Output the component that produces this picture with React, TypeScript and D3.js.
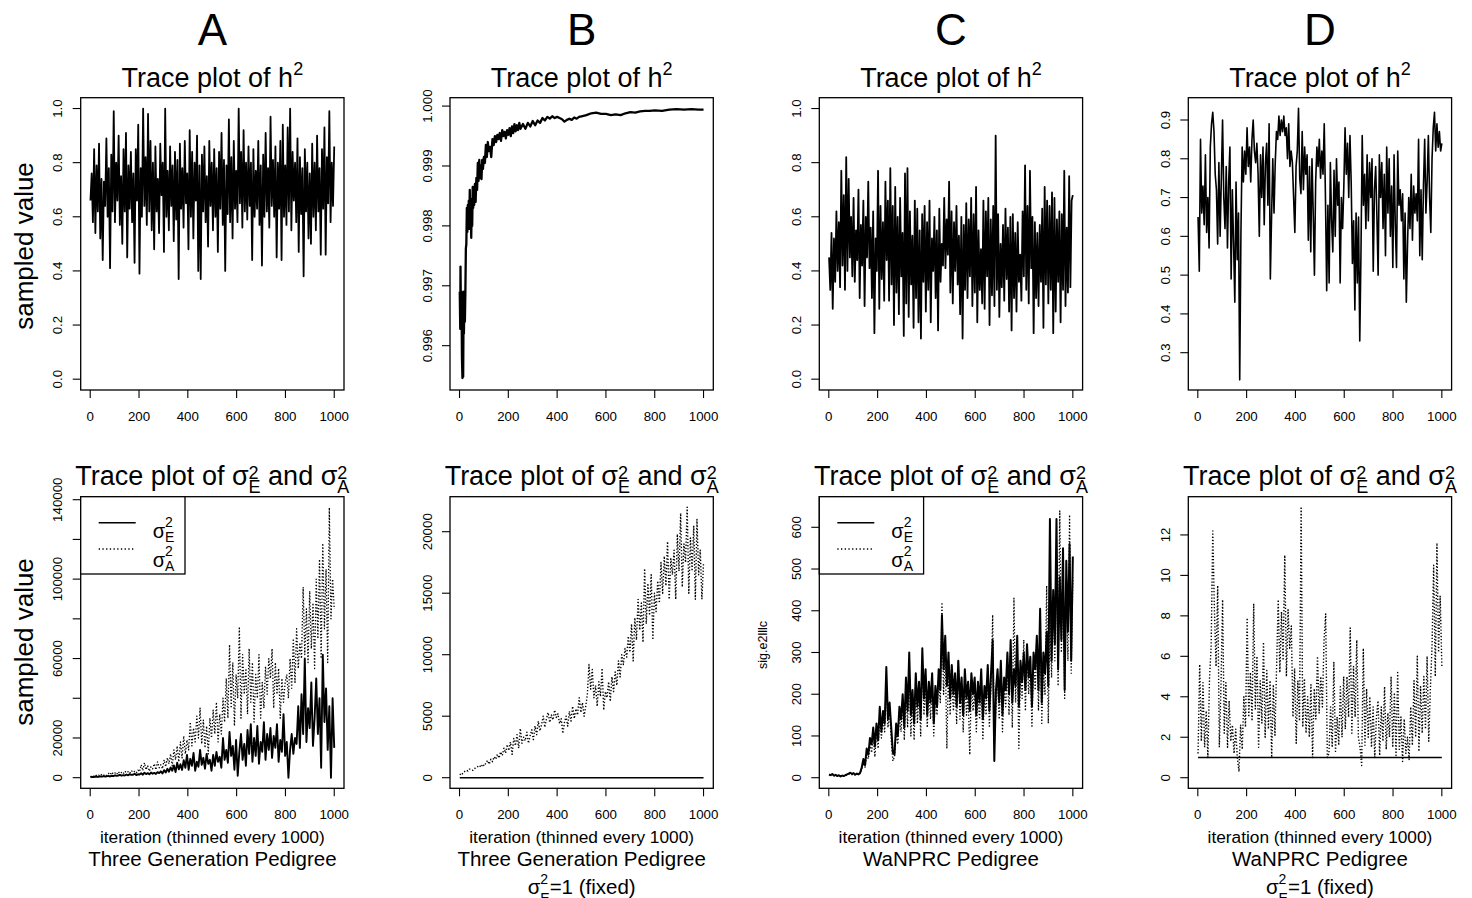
import React from "react";
import * as d3 from "d3";

const FONT = "'Liberation Sans', Arial, Helvetica, sans-serif";

// ---------------- labels ----------------
const panelLetters = ["A", "B", "C", "D"];
const pedigrees = ["Three Generation Pedigree", "Three Generation Pedigree", "WaNPRC Pedigree", "WaNPRC Pedigree"];
const fixedNote = [false, true, false, true];
const iterTicks = [0, 200, 400, 600, 800, 1000];

// ---------------- y ticks ----------------
const h2TicksAC = [0, 0.2, 0.4, 0.6, 0.8, 1.0];
const h2TicksB = [0.996, 0.997, 0.998, 0.999, 1.0];
const h2TicksD = [0.3, 0.4, 0.5, 0.6, 0.7, 0.8, 0.9];
const varTicksA = [0, 20000, 40000, 60000, 80000, 100000, 120000, 140000];
const varLabelsA = [0, 20000, 60000, 100000, 140000];
const varTicksB = [0, 5000, 10000, 15000, 20000];
const varTicksC = [0, 100, 200, 300, 400, 500, 600];
const varTicksD = [0, 2, 4, 6, 8, 10, 12];

// ---------------- top row: h2 traces ----------------
const h2_A = [
  0.66,0.76,0.58,0.85,0.54,0.79,0.62,0.87,0.52,0.74,
  0.44,0.73,0.64,0.89,0.60,0.78,0.41,0.83,0.62,0.99,
  0.58,0.80,0.66,0.90,0.57,0.75,0.50,0.85,0.62,0.91,
  0.45,0.79,0.63,0.84,0.58,0.76,0.43,0.85,0.66,0.94,
  0.39,0.78,0.60,1.00,0.64,0.82,0.57,0.98,0.62,0.88,
  0.55,0.80,0.48,0.86,0.62,0.74,0.54,0.87,0.68,0.80,
  0.47,1.00,0.60,0.77,0.55,0.86,0.64,0.79,0.51,0.84,
  0.59,0.81,0.37,0.87,0.63,0.78,0.56,0.88,0.65,0.76,
  0.48,0.92,0.60,0.84,0.52,0.80,0.66,0.90,0.40,0.79,
  0.37,0.83,0.62,0.86,0.58,0.75,0.49,0.88,0.64,0.80,
  0.55,0.85,0.60,0.78,0.47,0.84,0.63,0.91,0.57,0.81,
  0.40,0.79,0.61,0.96,0.58,0.82,0.52,0.88,0.63,0.77,
  0.58,1.00,0.65,0.84,0.56,0.92,0.62,0.80,0.59,0.86,
  0.64,0.80,0.44,0.85,0.60,0.77,0.63,0.88,0.57,0.79,
  0.42,0.83,0.60,0.91,0.62,0.78,0.56,0.97,0.64,0.81,
  0.60,0.86,0.45,0.80,0.63,0.88,0.44,0.94,0.60,0.79,
  0.57,0.93,0.62,1.00,0.55,0.84,0.66,0.80,0.58,0.89,
  0.47,0.82,0.61,0.78,0.38,0.85,0.62,0.80,0.52,0.76,
  0.50,0.87,0.60,0.80,0.55,0.90,0.62,0.78,0.46,0.85,
  0.63,0.93,0.46,0.82,0.65,0.99,0.58,0.80,0.64,0.86,
];

const iter_B = [
  1,3,4,6,8,10,12,14,15,17,
  18,20,22,24,26,28,30,32,34,36,
  38,40,42,44,46,48,50,52,54,56,
  58,60,63,66,69,72,75,78,81,84,
  87,90,93,96,100,104,108,112,116,120,
  125,130,135,140,145,150,155,160,165,170,
  175,180,185,190,195,200,205,210,215,220,
  225,230,235,240,245,250,260,270,280,290,
  300,310,320,330,340,350,360,370,380,390,
  400,410,420,430,440,450,460,470,480,490,
  500,520,540,560,580,600,620,640,660,680,
  700,720,740,760,780,800,830,860,890,920,
  950,980,1000,
];
const h2_B = [
  0.99690,0.99628,0.99732,0.99640,0.99690,0.99580,0.99546,0.99600,0.99548,0.99690,
  0.99620,0.99675,0.99640,0.99690,0.99762,0.99770,0.99830,0.99790,0.99835,0.99800,
  0.99842,0.99795,0.99860,0.99810,0.99845,0.99780,0.99830,0.99800,0.99865,0.99830,
  0.99855,0.99835,0.99870,0.99840,0.99880,0.99860,0.99905,0.99875,0.99910,0.99880,
  0.99900,0.99878,0.99910,0.99895,0.99915,0.99905,0.99935,0.99915,0.99940,0.99925,
  0.99932,0.99915,0.99945,0.99935,0.99950,0.99940,0.99952,0.99945,0.99955,0.99942,
  0.99960,0.99950,0.99957,0.99946,0.99960,0.99952,0.99963,0.99950,0.99966,0.99955,
  0.99970,0.99958,0.99968,0.99960,0.99972,0.99962,0.99970,0.99962,0.99972,0.99966,
  0.99975,0.99968,0.99976,0.99972,0.99980,0.99976,0.99982,0.99979,0.99983,0.99980,
  0.99982,0.99980,0.99978,0.99974,0.99977,0.99979,0.99977,0.99981,0.99979,0.99982,
  0.99983,0.99985,0.99988,0.99989,0.99987,0.99987,0.99985,0.99986,0.99985,0.99988,
  0.99990,0.99989,0.99991,0.99992,0.99992,0.99993,0.99992,0.99994,0.99995,0.99994,
  0.99995,0.99994,0.99994,
];

const h2_C = [
  0.45,0.33,0.54,0.26,0.52,0.36,0.62,0.40,0.58,0.34,
  0.77,0.42,0.68,0.33,0.82,0.40,0.74,0.45,0.60,0.38,
  0.67,0.36,0.55,0.44,0.70,0.30,0.57,0.42,0.66,0.27,
  0.60,0.45,0.73,0.41,0.56,0.30,0.62,0.17,0.52,0.40,
  0.77,0.26,0.64,0.37,0.58,0.29,0.73,0.44,0.66,0.29,
  0.78,0.35,0.64,0.20,0.71,0.32,0.60,0.24,0.67,0.38,
  0.54,0.16,0.76,0.28,0.78,0.23,0.62,0.35,0.53,0.19,
  0.66,0.30,0.63,0.21,0.55,0.15,0.61,0.36,0.64,0.25,
  0.58,0.33,0.66,0.21,0.52,0.40,0.60,0.30,0.55,0.18,
  0.63,0.36,0.50,0.42,0.67,0.41,0.59,0.46,0.73,0.32,
  0.62,0.28,0.58,0.40,0.64,0.35,0.53,0.24,0.60,0.15,
  0.57,0.33,0.65,0.30,0.59,0.38,0.67,0.27,0.61,0.32,
  0.71,0.21,0.55,0.33,0.48,0.28,0.66,0.26,0.62,0.38,
  0.67,0.20,0.59,0.31,0.64,0.27,0.90,0.33,0.61,0.23,
  0.50,0.34,0.57,0.29,0.63,0.37,0.56,0.25,0.60,0.18,
  0.61,0.30,0.54,0.25,0.58,0.36,0.46,0.29,0.62,0.38,
  0.79,0.33,0.64,0.28,0.77,0.41,0.60,0.17,0.58,0.30,
  0.54,0.27,0.57,0.36,0.63,0.19,0.71,0.35,0.66,0.28,
  0.64,0.33,0.69,0.17,0.67,0.25,0.59,0.36,0.62,0.21,
  0.61,0.33,0.77,0.27,0.56,0.32,0.75,0.34,0.66,0.68,
];

const h2_D = [
  0.65,0.51,0.85,0.66,0.73,0.63,0.81,0.61,0.70,0.57,
  0.83,0.89,0.92,0.87,0.76,0.72,0.58,0.79,0.60,0.75,
  0.90,0.70,0.62,0.78,0.57,0.74,0.83,0.49,0.72,0.58,
  0.43,0.74,0.54,0.66,0.23,0.61,0.83,0.74,0.82,0.76,
  0.88,0.78,0.83,0.74,0.85,0.90,0.82,0.79,0.84,0.76,
  0.60,0.81,0.70,0.83,0.63,0.79,0.84,0.68,0.89,0.49,
  0.65,0.80,0.66,0.79,0.87,0.85,0.91,0.86,0.90,0.87,
  0.91,0.86,0.88,0.80,0.89,0.78,0.82,0.79,0.70,0.61,
  0.78,0.82,0.93,0.75,0.71,0.87,0.72,0.83,0.76,0.81,
  0.59,0.78,0.56,0.80,0.66,0.50,0.74,0.83,0.78,0.85,
  0.75,0.82,0.76,0.89,0.70,0.46,0.68,0.48,0.79,0.64,
  0.56,0.77,0.60,0.80,0.68,0.74,0.48,0.70,0.62,0.73,
  0.88,0.76,0.84,0.70,0.86,0.74,0.53,0.64,0.41,0.66,
  0.48,0.65,0.33,0.56,0.86,0.68,0.76,0.62,0.81,0.64,
  0.79,0.70,0.80,0.51,0.72,0.78,0.65,0.50,0.81,0.70,
  0.79,0.62,0.76,0.55,0.83,0.66,0.80,0.60,0.73,0.52,
  0.81,0.63,0.52,0.82,0.68,0.72,0.64,0.71,0.49,0.66,
  0.43,0.58,0.70,0.62,0.76,0.59,0.73,0.66,0.71,0.64,
  0.85,0.55,0.72,0.54,0.73,0.85,0.66,0.74,0.86,0.70,
  0.61,0.80,0.88,0.92,0.82,0.89,0.83,0.87,0.82,0.84,
];

// ---------------- bottom row: variance traces ----------------
const sigE_A = [
  200,400,300,600,500,400,700,500,800,600,
  700,900,600,1000,800,1200,900,1100,1400,1000,
  1300,1100,1600,1200,1800,1400,1500,2000,1300,1700,
  1600,2200,1500,2500,1800,2300,1700,2600,2000,2400,
  1900,2800,2300,3200,2100,3800,2600,4500,3000,5200,
  3500,6200,2800,7500,4200,6800,3900,8800,5000,11500,
  4000,9500,6000,12500,3500,8000,5500,14000,6500,10000,
  4500,12000,7000,9000,3500,11500,6000,13000,8000,10500,
  5000,20000,9000,14000,7500,23000,11000,16000,4000,19000,
  1000,13000,22000,9000,17000,6000,24000,12000,27000,8000,
  20000,11000,26000,7000,18000,13000,28000,9000,22000,14000,
  25000,10000,21000,15000,27000,8000,19000,13000,32000,11000,
  18000,0,14000,22000,12000,20000,17000,36000,15000,42000,
  22000,60000,18000,35000,25000,48000,16000,30000,50000,22000,
  40000,5000,62000,28000,45000,14000,36000,0,40000,15000,
];
const sigA_A = [
  500,1000,700,1500,900,1300,800,1800,1200,1600,
  1100,2200,1500,2800,1800,2400,1600,3000,2100,2600,
  1900,3300,2500,3000,2200,3600,2700,3200,2400,3800,
  3000,6500,3500,7500,4000,6000,3200,5500,4500,7000,
  4000,8000,5000,6500,4500,9000,5500,10000,7000,12000,
  6000,14000,9000,16000,8000,18000,10000,21000,12000,19000,
  14000,28000,16000,25000,18000,31000,20000,35000,17000,29000,
  15000,26000,12000,30000,20000,34000,22000,38000,18000,32000,
  22000,40000,28000,50000,30000,67000,35000,58000,26000,52000,
  40000,76000,30000,62000,42000,55000,32000,65000,38000,58000,
  28000,52000,40000,62000,30000,48000,35000,56000,42000,60000,
  50000,65000,35000,58000,42000,55000,30000,50000,38000,48000,
  52000,40000,60000,45000,70000,48000,75000,55000,68000,60000,
  96000,62000,85000,58000,94000,65000,88000,55000,100000,70000,
  110000,60000,118000,75000,105000,58000,136000,80000,100000,85000,
];

const sigE_fixed_iter = [1, 1000];
const sigE_fixed = [1, 1];

const sigA_B = [
  300,200,400,500,600,550,700,650,600,750,
  800,900,1000,850,1100,950,1200,1400,1100,1500,
  1300,1700,1500,1900,1600,2100,1800,2400,2000,2700,
  2200,2900,1900,3200,2600,3500,2400,4000,2800,3300,
  3000,3700,2800,3400,3900,3100,4200,3500,4600,3800,
  4300,5000,4100,4800,5300,4500,5100,4700,5500,4900,
  5200,4400,4800,3600,4500,5000,4200,5400,4600,5800,
  4800,5600,5100,6500,5300,6100,5000,5800,6800,9200,
  7200,8800,6500,7500,5800,7800,6600,8900,5500,7000,
  6500,7800,6200,8200,7000,8600,7500,9500,8200,10000,
  9200,10500,9800,11500,10200,12500,9500,13000,11200,14500,
  12000,14200,11000,17000,12500,15800,13200,16500,11200,15000,
  13500,16000,14200,17500,15000,18000,15600,19200,14500,17800,
  16500,18500,14500,19800,16800,21500,15500,19000,17500,22000,
  15000,19500,16800,20500,14500,21000,16500,18500,14500,17500,
];

const sigE_C = [
  8,6,9,5,7,4,6,3,5,4,
  6,8,10,12,9,11,7,10,8,12,
  25,45,30,70,55,95,80,120,75,130,
  90,170,110,160,130,265,140,180,120,60,
  55,130,100,170,140,200,120,240,160,300,
  150,210,130,250,170,230,140,310,190,260,
  150,230,180,250,130,220,170,260,210,390,
  260,340,220,300,190,270,200,250,170,280,
  180,240,150,260,190,230,160,250,200,240,
  150,230,180,260,140,220,190,270,160,250,
  330,40,210,260,180,280,150,240,210,300,
  200,330,180,260,220,340,170,280,230,300,
  210,320,240,290,170,300,260,340,210,405,
  180,300,250,350,220,620,280,450,320,620,
  260,480,330,550,210,520,350,560,280,530,
];
const sigA_C = [
  7,5,8,4,6,3,5,4,6,5,
  5,7,9,8,7,10,6,9,7,10,
  20,35,25,55,45,80,60,100,50,110,
  70,150,95,140,110,220,120,160,90,40,
  50,110,80,150,110,180,90,220,120,260,
  100,190,90,220,130,210,100,280,150,230,
  120,210,140,230,100,200,150,240,180,420,
  200,300,70,260,150,240,160,220,130,280,
  140,210,110,240,150,200,55,230,160,210,
  110,200,140,230,90,200,150,250,120,220,
  390,80,170,230,140,250,110,220,170,270,
  150,300,120,430,180,310,70,260,190,330,
  160,300,200,270,120,280,210,320,160,380,
  130,260,200,460,130,390,240,420,280,520,
  220,640,300,500,190,460,280,630,250,480,
];

const sigA_D = [
  1.2,5.6,1.8,4.7,1.5,3.3,1.0,4.9,6.5,12.2,
  8.3,5.5,9.5,1.5,4.5,8.8,2.2,4.7,1.5,3.8,
  1.8,2.6,1.2,2.4,1.0,0.3,2.6,1.4,4.0,2.5,
  7.9,3.0,5.2,2.8,8.6,3.4,6.0,1.5,4.8,2.7,
  6.7,2.0,5.3,2.4,4.8,1.0,4.6,2.1,5.5,8.8,
  5.2,8.2,5.8,11.0,5.0,8.3,6.4,7.5,3.0,5.4,
  1.7,4.8,2.8,13.4,2.5,4.9,2.2,4.0,2.0,4.6,
  1.0,4.4,2.9,6.0,3.2,5.0,3.5,6.8,8.1,1.0,
  1.2,3.5,1.5,5.7,1.3,3.0,1.6,4.5,2.0,5.0,
  2.4,5.0,3.0,7.4,2.2,5.5,3.0,6.8,2.0,1.5,
  0.6,6.4,1.6,4.4,2.0,4.0,1.5,3.5,1.0,3.0,
  3.8,1.1,3.5,1.8,4.5,1.4,3.2,2.0,5.0,1.5,
  4.2,1.1,5.2,1.4,3.0,0.8,2.9,1.2,2.0,0.9,
  3.5,1.6,4.8,2.0,6.0,1.3,4.5,2.2,5.0,2.4,
  6.0,1.8,4.4,6.5,10.5,5.0,11.6,6.2,9.0,5.5,
];

// ---------------- layout ----------------
const COL_L = [80.7, 450, 819.3, 1188.3];
const PW = 263.3;
const ROW_T = [97.7, 496.7];
const ROW_B = [390, 788.3];

// sample index (1..1000) for evenly thinned stored samples
const iterOf = (n: number) => d3.range(n).map((i) => 1 + (i * 999) / (n - 1));

type Series = { x: number[]; y: number[]; dash?: string; w: number };

function Panel(props: {
  col: number;
  row: number;
  yDomain: [number, number];
  yTicks: number[];
  yLabels: number[];
  fmt: (v: number) => string;
  series: Series[];
}) {
  const { col, row, yDomain, yTicks, yLabels, fmt, series } = props;
  const x0 = COL_L[col];
  const yTop = ROW_T[row];
  const yBot = ROW_B[row];
  const xs = d3.scaleLinear().domain([-39, 1040]).range([x0, x0 + PW]);
  const ys = d3.scaleLinear().domain(yDomain).range([yBot, yTop]);
  const line = d3
    .line<[number, number]>()
    .x((d) => xs(d[0]))
    .y((d) => ys(d[1]));
  return (
    <g>
      {series.map((s, i) => (
        <path
          key={i}
          d={line(s.x.map((xv, j) => [xv, s.y[j]] as [number, number])) || ""}
          fill="none"
          stroke="#000"
          strokeWidth={s.w}
          strokeDasharray={s.dash}
          strokeLinejoin="round"
        />
      ))}
      <rect x={x0} y={yTop} width={PW} height={yBot - yTop} fill="none" stroke="#000" strokeWidth={1.3} />
      {iterTicks.map((t) => (
        <g key={"x" + t}>
          <line x1={xs(t)} x2={xs(t)} y1={yBot} y2={yBot + 8} stroke="#000" strokeWidth={1.1} />
          <text x={xs(t)} y={yBot + 31} textAnchor="middle" fontSize={13.3}>
            {t}
          </text>
        </g>
      ))}
      {yTicks.map((t) => (
        <g key={"y" + t}>
          <line x1={x0 - 8} x2={x0} y1={ys(t)} y2={ys(t)} stroke="#000" strokeWidth={1.1} />
          {yLabels.indexOf(t) >= 0 && (
            <text transform={`translate(${x0 - 18.5},${ys(t)}) rotate(-90)`} textAnchor="middle" fontSize={13.3}>
              {fmt(t)}
            </text>
          )}
        </g>
      ))}
    </g>
  );
}

function Legend({ col }: { col: number }) {
  const x0 = COL_L[col];
  const yTop = ROW_T[1];
  return (
    <g>
      <rect x={x0} y={yTop} width={104.3} height={77.3} fill="#fff" stroke="#000" strokeWidth={1.3} />
      <line x1={x0 + 18} x2={x0 + 55} y1={522.7} y2={522.7} stroke="#000" strokeWidth={1.4} />
      <line x1={x0 + 18} x2={x0 + 55} y1={549} y2={549} stroke="#000" strokeWidth={1.3} strokeDasharray="1.3 2.4" />
      <text x={x0 + 72} y={538} fontSize={20}>
        σ<tspan dy={-11} fontSize={14}>2</tspan>
        <tspan dx={-7.8} dy={15} fontSize={14}>E</tspan>
      </text>
      <text x={x0 + 72} y={567} fontSize={20}>
        σ<tspan dy={-11} fontSize={14}>2</tspan>
        <tspan dx={-7.8} dy={15} fontSize={14}>A</tspan>
      </text>
    </g>
  );
}

export default function App() {
  const f1 = d3.format(".1f");
  const f3 = d3.format(".3f");
  const fd = d3.format("d");
  const n200 = iterOf(200);
  const n150 = iterOf(150);
  const dot = "1.3 1.9";

  const topPanels = [
    { yDomain: [-0.04, 1.04] as [number, number], yTicks: h2TicksAC, fmt: f1, series: [{ x: n200, y: h2_A, w: 1.8 }] },
    { yDomain: [0.99526, 1.00014] as [number, number], yTicks: h2TicksB, fmt: f3, series: [{ x: iter_B, y: h2_B, w: 2.3 }] },
    { yDomain: [-0.04, 1.04] as [number, number], yTicks: h2TicksAC, fmt: f1, series: [{ x: n200, y: h2_C, w: 1.8 }] },
    { yDomain: [0.2038, 0.9575] as [number, number], yTicks: h2TicksD, fmt: f1, series: [{ x: n200, y: h2_D, w: 1.6 }] },
  ];
  const botPanels = [
    {
      yDomain: [-5344, 141512] as [number, number], yTicks: varTicksA, yLabels: varLabelsA,
      series: [{ x: n150, y: sigE_A, w: 1.9 }, { x: n150, y: sigA_A, w: 1.3, dash: dot }],
    },
    {
      yDomain: [-862, 22846] as [number, number], yTicks: varTicksB, yLabels: varTicksB,
      series: [{ x: sigE_fixed_iter, y: sigE_fixed, w: 1.4 }, { x: n150, y: sigA_B, w: 1.4, dash: dot }],
    },
    {
      yDomain: [-25.4, 673.3] as [number, number], yTicks: varTicksC, yLabels: varTicksC,
      series: [{ x: n150, y: sigE_C, w: 2.0 }, { x: n150, y: sigA_C, w: 1.3, dash: dot }],
    },
    {
      yDomain: [-0.524, 13.89] as [number, number], yTicks: varTicksD, yLabels: varTicksD,
      series: [{ x: sigE_fixed_iter, y: sigE_fixed, w: 1.4 }, { x: n150, y: sigA_D, w: 1.4, dash: dot }],
    },
  ];

  return (
    <svg
      width={1472}
      height={898}
      viewBox="0 0 1472 898"
      style={{ position: "absolute", left: 0, top: 0, background: "#fff" }}
      fontFamily={FONT}
      fill="#000"
    >
      <rect x={0} y={0} width={1472} height={898} fill="#fff" />
      {panelLetters.map((L, c) => {
        const cx = COL_L[c] + PW / 2;
        return (
          <g key={L}>
            <text x={cx} y={45} textAnchor="middle" fontSize={44}>
              {L}
            </text>
            <text x={cx} y={87} textAnchor="middle" fontSize={27}>
              Trace plot of h<tspan dy={-12} fontSize={18}>2</tspan>
            </text>
            <text x={cx} y={485} textAnchor="middle" fontSize={27}>
              Trace plot of σ<tspan dy={-6} fontSize={18}>2</tspan>
              <tspan dx={-10} dy={14} fontSize={18}>E</tspan>
              <tspan dy={-8}> and σ</tspan>
              <tspan dy={-6} fontSize={18}>2</tspan>
              <tspan dx={-10} dy={14} fontSize={18}>A</tspan>
            </text>
            <Panel col={c} row={0} yDomain={topPanels[c].yDomain} yTicks={topPanels[c].yTicks} yLabels={topPanels[c].yTicks} fmt={topPanels[c].fmt} series={topPanels[c].series} />
            <Panel col={c} row={1} yDomain={botPanels[c].yDomain} yTicks={botPanels[c].yTicks} yLabels={botPanels[c].yLabels} fmt={fd} series={botPanels[c].series} />
            <text x={cx} y={843} textAnchor="middle" fontSize={17.3}>
              iteration (thinned every 1000)
            </text>
            <text x={cx} y={866} textAnchor="middle" fontSize={20.5}>
              {pedigrees[c]}
            </text>
            {fixedNote[c] && (
              <text x={cx} y={894} textAnchor="middle" fontSize={20.5}>
                σ<tspan dy={-10} fontSize={14}>2</tspan>
                <tspan dx={-7.8} dy={19} fontSize={14}>E</tspan>
                <tspan dy={-9}>=1 (fixed)</tspan>
              </text>
            )}
          </g>
        );
      })}
      <Legend col={0} />
      <Legend col={2} />
      <text transform="translate(33,246) rotate(-90)" textAnchor="middle" fontSize={26}>
        sampled value
      </text>
      <text transform="translate(33,642) rotate(-90)" textAnchor="middle" fontSize={26}>
        sampled value
      </text>
      <text transform="translate(767,645) rotate(-90)" textAnchor="middle" fontSize={12.5}>
        sig.e2lllc
      </text>
    </svg>
  );
}
